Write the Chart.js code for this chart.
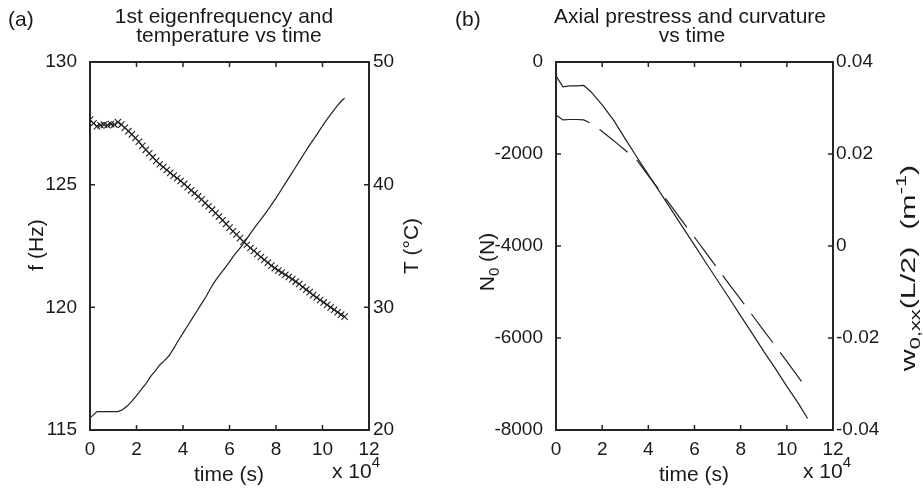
<!DOCTYPE html>
<html>
<head>
<meta charset="utf-8">
<script src="https://cdn.jsdelivr.net/npm/chart.js@4.4.1/dist/chart.umd.min.js"></script>
<style>
body { margin: 0; background: #fff; }
#wrap { position: relative; width: 923px; height: 490px; }
.panel { position: absolute; top: 0; height: 490px; }
</style>
</head>
<body>
<div id="wrap">
  <div class="panel" style="left:0;width:450px"><canvas id="chartA"></canvas></div>
  <div class="panel" style="left:450px;width:473px"><canvas id="chartB"></canvas></div>
</div>
<script>
// (a) eigenfrequency, time in 1e4 s
const timeF = [0,0.15,0.3,0.45,0.6,0.75,0.9,1.05,1.2,1.35,
  1.5,1.65,1.8,1.95,2.1,2.25,2.4,2.55,2.7,2.85,
  3,3.15,3.3,3.45,3.6,3.75,3.9,4.05,4.2,4.35,
  4.5,4.65,4.8,4.95,5.1,5.25,5.4,5.55,5.7,5.85,
  6,6.15,6.3,6.45,6.6,6.75,6.9,7.05,7.2,7.35,
  7.5,7.65,7.8,7.95,8.1,8.25,8.4,8.55,8.7,8.85,
  9,9.15,9.3,9.45,9.6,9.75,9.9,10.05,10.2,10.35,
  10.5,10.65,10.8,10.95];
const freq = [127.65,127.5,127.38,127.42,127.45,127.42,127.47,127.45,127.55,127.45,
  127.32,127.18,127.05,126.9,126.75,126.58,126.42,126.28,126.12,125.97,
  125.83,125.72,125.6,125.48,125.37,125.26,125.15,125.03,124.9,124.77,
  124.65,124.52,124.4,124.25,124.12,123.98,123.84,123.7,123.55,123.4,
  123.25,123.1,122.97,122.82,122.68,122.55,122.42,122.3,122.18,122.05,
  121.94,121.82,121.7,121.6,121.5,121.42,121.33,121.24,121.15,121.05,
  120.95,120.83,120.72,120.62,120.5,120.4,120.3,120.2,120.1,120.0,
  119.9,119.8,119.7,119.62];

// (a) temperature
const timeT = [0,0.1,0.3,0.6,0.9,1.2,
  1.4,1.6,1.8,2.0,2.2,2.4,2.6,2.8,3.0,3.2,
  3.4,3.6,3.8,4.0,4.2,4.4,4.6,4.8,5.0,5.2,
  5.4,5.6,5.8,6.0,6.2,6.4,6.6,6.8,7.0,7.2,
  7.4,7.6,7.8,8.0,8.2,8.4,8.6,8.8,9.0,9.2,
  9.4,9.6,9.8,10.0,10.2,10.4,10.6,10.8,10.95];
const temp = [21.0,21.15,21.5,21.5,21.5,21.5,
  21.65,21.95,22.35,22.8,23.3,23.75,24.35,24.8,25.3,25.65,
  26.05,26.65,27.3,27.9,28.5,29.1,29.7,30.3,30.9,31.6,
  32.2,32.7,33.2,33.7,34.25,34.7,35.2,35.75,36.3,36.8,
  37.3,37.8,38.35,38.9,39.5,40.1,40.7,41.3,41.9,42.5,
  43.1,43.65,44.2,44.8,45.35,45.85,46.35,46.8,47.05];

// (b) prestress and curvature
const timeB = [0,0.3,0.6,0.9,1.2,1.5,2,2.5,3,3.5,4,4.5,5,5.5,6,6.5,7,7.5,8,8.5,9,9.5,10,10.5,10.9];
const prestress = [-300,-540,-520,-520,-510,-640,-930,-1270,-1670,-2065,-2450,-2830,-3215,-3600,-3980,
  -4370,-4750,-5130,-5520,-5900,-6290,-6660,-7050,-7420,-7750];
const curvature = [0.0285,0.0274,0.0275,0.0275,0.0274,0.0267,0.0249,0.0229,0.0208,0.0187,0.0153,0.0120,
  0.0086,0.0052,0.0019,-0.0015,-0.0049,-0.0083,-0.0116,-0.0150,-0.0184,-0.0217,-0.0251,-0.0285,-0.0313];

const xTicks = [0, 2, 4, 6, 8, 10, 12];

const FONT = "'Liberation Sans', Arial, sans-serif";
const INK = '#1a1a1a';

function pts(xs, ys) {
  return xs.map((x, i) => ({ x: x, y: ys[i] }));
}

// text made of runs: [text, size, dy]; sx stretches along the reading direction
function drawRuns(ctx, item) {
  ctx.save();
  ctx.translate(item.x, item.y);
  if (item.rot) ctx.rotate(item.rot);
  if (item.sx) ctx.scale(item.sx, 1);
  let w = 0;
  item.runs.forEach(r => { ctx.font = r[1] + 'px ' + FONT; w += ctx.measureText(r[0]).width; });
  let cx = item.align === 'left' ? 0 : -w / 2;
  ctx.textBaseline = 'alphabetic';
  ctx.textAlign = 'left';
  item.runs.forEach(r => {
    ctx.font = r[1] + 'px ' + FONT;
    ctx.fillText(r[0], cx, r[2] || 0);
    cx += ctx.measureText(r[0]).width;
  });
  ctx.restore();
}

const framePlugin = {
  id: 'frame',
  afterDraw(chart, args, opts) {
    const ctx = chart.ctx, a = chart.chartArea, tl = 5;
    const sx = chart.scales.x, yl = chart.scales.yL, yr = chart.scales.yR;
    ctx.save();
    ctx.strokeStyle = '#262626';
    ctx.lineWidth = 1.5;
    ctx.beginPath();
    sx.ticks.forEach(t => {
      const p = sx.getPixelForValue(t.value);
      ctx.moveTo(p, a.bottom); ctx.lineTo(p, a.bottom - tl);
      ctx.moveTo(p, a.top); ctx.lineTo(p, a.top + tl);
    });
    yl.ticks.forEach(t => {
      const p = yl.getPixelForValue(t.value);
      ctx.moveTo(a.left, p); ctx.lineTo(a.left + tl, p);
    });
    yr.ticks.forEach(t => {
      const p = yr.getPixelForValue(t.value);
      ctx.moveTo(a.right, p); ctx.lineTo(a.right - tl, p);
    });
    ctx.stroke();
    ctx.lineWidth = 2;
    ctx.strokeRect(a.left, a.top, a.right - a.left, a.bottom - a.top);
    ctx.fillStyle = INK;
    (opts.texts || []).forEach(item => drawRuns(ctx, item));
    ctx.restore();
  }
};

function axisX() {
  return {
    type: 'linear', min: 0, max: 12,
    afterBuildTicks: s => { s.ticks = xTicks.map(v => ({ value: v })); },
    afterFit: s => { s.height = 60; },
    grid: { display: false, drawTicks: false },
    border: { display: false },
    ticks: { padding: 8, color: INK, font: { family: FONT, size: 19 } }
  };
}

function axisY(pos, min, max, step, width, pad, fmt) {
  return {
    type: 'linear', position: pos, min: min, max: max,
    afterFit: s => { s.width = width; },
    grid: { display: false, drawTicks: false },
    border: { display: false },
    ticks: { stepSize: step, padding: pad, color: INK, font: { family: FONT, size: 19 }, callback: fmt }
  };
}

const plainFmt = v => String(v);

new Chart(document.getElementById('chartA'), {
  type: 'line',
  data: {
    datasets: [{
      data: pts(timeF, freq),
      yAxisID: 'yL',
      borderColor: '#222', borderWidth: 1,
      pointStyle: 'crossRot', pointRadius: 4.5, pointBorderColor: '#222', pointBorderWidth: 1.1,
      tension: 0
    }, {
      data: pts(timeT, temp),
      yAxisID: 'yR',
      borderColor: '#222', borderWidth: 1.2,
      pointRadius: 0, tension: 0
    }]
  },
  options: {
    responsive: true, maintainAspectRatio: false, animation: false,
    layout: { padding: { top: 62, left: 0, right: 0, bottom: 0 } },
    scales: {
      x: axisX(),
      yL: axisY('left', 115, 130, 5, 90, 13, plainFmt),
      yR: axisY('right', 20, 50, 10, 81, 4, plainFmt)
    },
    plugins: {
      legend: { display: false },
      tooltip: { enabled: false },
      frame: {
        texts: [
          { x: 8, y: 26, align: 'left', runs: [['(a)', 21]] },
          { x: 224, y: 23, runs: [['1st eigenfrequency and', 21]] },
          { x: 229, y: 42, runs: [['temperature vs time', 21]] },
          { x: 43, y: 245, rot: -Math.PI / 2, runs: [['f (Hz)', 21]] },
          { x: 418, y: 246, rot: -Math.PI / 2, runs: [['T (°C)', 21]] },
          { x: 229, y: 481, runs: [['time (s)', 21]] },
          { x: 332, y: 478, align: 'left', runs: [['x 10', 21], ['4', 15, -11]] }
        ]
      }
    }
  },
  plugins: [framePlugin]
});

new Chart(document.getElementById('chartB'), {
  type: 'line',
  data: {
    datasets: [{
      data: pts(timeB, prestress),
      yAxisID: 'yL',
      borderColor: '#222', borderWidth: 1.2,
      pointRadius: 0, tension: 0
    }, {
      data: pts(timeB, curvature),
      yAxisID: 'yR',
      borderColor: '#222', borderWidth: 1.2, borderDash: [36, 12],
      pointRadius: 0, tension: 0
    }]
  },
  options: {
    responsive: true, maintainAspectRatio: false, animation: false,
    layout: { padding: { top: 62, left: 0, right: 0, bottom: 0 } },
    scales: {
      x: axisX(),
      yL: axisY('left', -8000, 0, 2000, 106, 13, plainFmt),
      yR: axisY('right', -0.04, 0.04, 0.02, 90, 3, v => Math.abs(v) < 1e-9 ? '0' : v.toFixed(2))
    },
    plugins: {
      legend: { display: false },
      tooltip: { enabled: false },
      frame: {
        texts: [
          { x: 5, y: 26, align: 'left', runs: [['(b)', 21]] },
          { x: 240, y: 23, runs: [['Axial prestress and curvature', 21]] },
          { x: 242, y: 42, runs: [['vs time', 21]] },
          { x: 44, y: 262, rot: -Math.PI / 2, runs: [['N', 21], ['0', 15, 5], [' (N)', 21]] },
          { x: 465, y: 268, rot: -Math.PI / 2, sx: 1.45,
            runs: [['w', 21], ['0,xx', 15, 5], ['(L/2)  (m', 21], ['-1', 15, -9], [')', 21]] },
          { x: 244, y: 481, runs: [['time (s)', 21]] },
          { x: 353, y: 478, align: 'left', runs: [['x 10', 21], ['4', 15, -11]] }
        ]
      }
    }
  },
  plugins: [framePlugin]
});
</script>
</body>
</html>
